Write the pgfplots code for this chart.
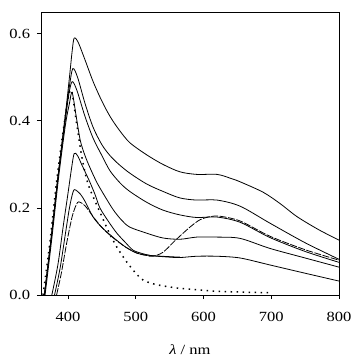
\documentclass[border=0pt]{standalone}
\usepackage{pgfplots}
\pgfplotsset{compat=1.18}
\usepackage{fontspec}
\setmainfont{Liberation Serif}[FakeStretch=1.18]
\begin{document}
\fontsize{14}{16}\selectfont
\begin{tikzpicture}
\tikzset{sol/.style={black, line width=0.8pt, no markers, smooth, tension=0.5}}
\begin{axis}[
  scale only axis, width=298pt, height=283pt,
  xmin=360, xmax=800, ymin=0, ymax=0.65,
  xtick={400,500,600,700,800}, ytick={0,0.2,0.4,0.6},
  tick align=outside, tick pos=left,
  major tick length=4pt,
  axis line style={line width=0.8pt},
  every tick/.style={line width=0.8pt, black},
  yticklabel style={/pgf/number format/fixed, /pgf/number format/fixed zerofill, /pgf/number format/precision=1, xshift=-2pt},
  /pgf/number format/assume math mode=true,
  ticklabel style={font=\fontsize{14}{16}\selectfont},
  xticklabel style={yshift=-8pt},
  xlabel={\textit{λ} / nm},
  xlabel style={at={(axis description cs:0.5,0)}, anchor=center, yshift=-55pt},
  clip=true,
]
% A
\addplot[sol] coordinates {(365,0) (375,0.13) (385,0.27) (395,0.40) (402,0.50) (406,0.56) (409,0.59) (415,0.58) (425,0.54) (437,0.49) (450,0.445) (462,0.41) (475,0.38) (491,0.35) (516,0.322) (540,0.300) (565,0.283) (590,0.277) (620,0.277) (640,0.268) (654,0.260) (688,0.236) (713,0.21) (738,0.18) (770,0.15) (800,0.126)};
% B
\addplot[sol] coordinates {(365,0) (375,0.13) (385,0.27) (395,0.40) (402,0.48) (407,0.52) (414,0.50) (425,0.44) (437,0.385) (450,0.345) (462,0.32) (475,0.30) (491,0.28) (516,0.255) (540,0.238) (565,0.223) (590,0.218) (620,0.218) (654,0.204) (698,0.165) (750,0.12) (800,0.082)};
% C
\addplot[sol] coordinates {(365,0) (375,0.13) (385,0.27) (395,0.39) (401,0.46) (406,0.49) (413,0.47) (425,0.41) (437,0.36) (450,0.32) (462,0.285) (477,0.257) (491,0.238) (516,0.213) (540,0.195) (565,0.184) (590,0.178) (620,0.179) (654,0.167) (698,0.132) (750,0.10) (800,0.075)};
% H
\addplot[sol] coordinates {(366,0) (376,0.13) (386,0.27) (396,0.39) (402,0.44) (406,0.465) (412,0.41) (418,0.355) (425,0.32) (433,0.29) (443,0.257) (455,0.225) (467,0.195) (479,0.172) (491,0.156) (516,0.142) (540,0.131) (565,0.128) (590,0.133) (620,0.133) (654,0.13) (698,0.107) (750,0.085) (800,0.064)};
% E
\addplot[sol] coordinates {(376,0) (385,0.07) (393,0.16) (400,0.235) (405,0.29) (409,0.325) (414,0.32) (420,0.30) (426,0.28) (432,0.26) (440,0.23) (447,0.20) (460,0.168) (472,0.142) (485,0.12) (496,0.103) (510,0.095) (525,0.09) (550,0.087) (565,0.086) (590,0.089) (620,0.089) (654,0.085) (698,0.069) (750,0.05) (800,0.032)};
% F
\addplot[sol] coordinates {(380,0) (388,0.06) (395,0.13) (402,0.20) (407,0.235) (410,0.242) (418,0.232) (425,0.215) (437,0.179) (450,0.155) (466,0.133) (485,0.11) (502,0.096) (520,0.091) (550,0.088) (565,0.087)};
% G dashed
\addplot[sol, dash pattern=on 7pt off 1.5pt] coordinates {(383,0) (390,0.05) (398,0.12) (406,0.18) (412,0.207) (416,0.214) (425,0.205) (437,0.18) (450,0.155) (466,0.132) (485,0.11) (502,0.096) (515,0.091) (525,0.089) (540,0.098) (558,0.125) (580,0.156) (595,0.173) (610,0.18) (624,0.181) (654,0.170) (698,0.135) (750,0.104) (800,0.080)};
% D dotted
\addplot[sol, line width=1.5pt, dash pattern=on 1.5pt off 4.5pt] coordinates {(363,0) (373,0.12) (383,0.26) (393,0.38) (400,0.45) (405,0.47) (412,0.40) (420,0.32) (429,0.257) (440,0.215) (450,0.18) (460,0.145) (472,0.11) (487,0.075) (500,0.05) (511,0.034) (530,0.024) (561,0.016) (590,0.012) (614,0.009) (650,0.007) (700,0.005)};
\node[anchor=center] at (rel axis cs:0,0.777) [xshift=-21pt] {\textit{F}(\textit{R})};
\end{axis}
\path[use as bounding box] (current axis.south west) ++(-41pt,-67pt) rectangle ++(360pt,362pt);
\end{tikzpicture}
\end{document}
